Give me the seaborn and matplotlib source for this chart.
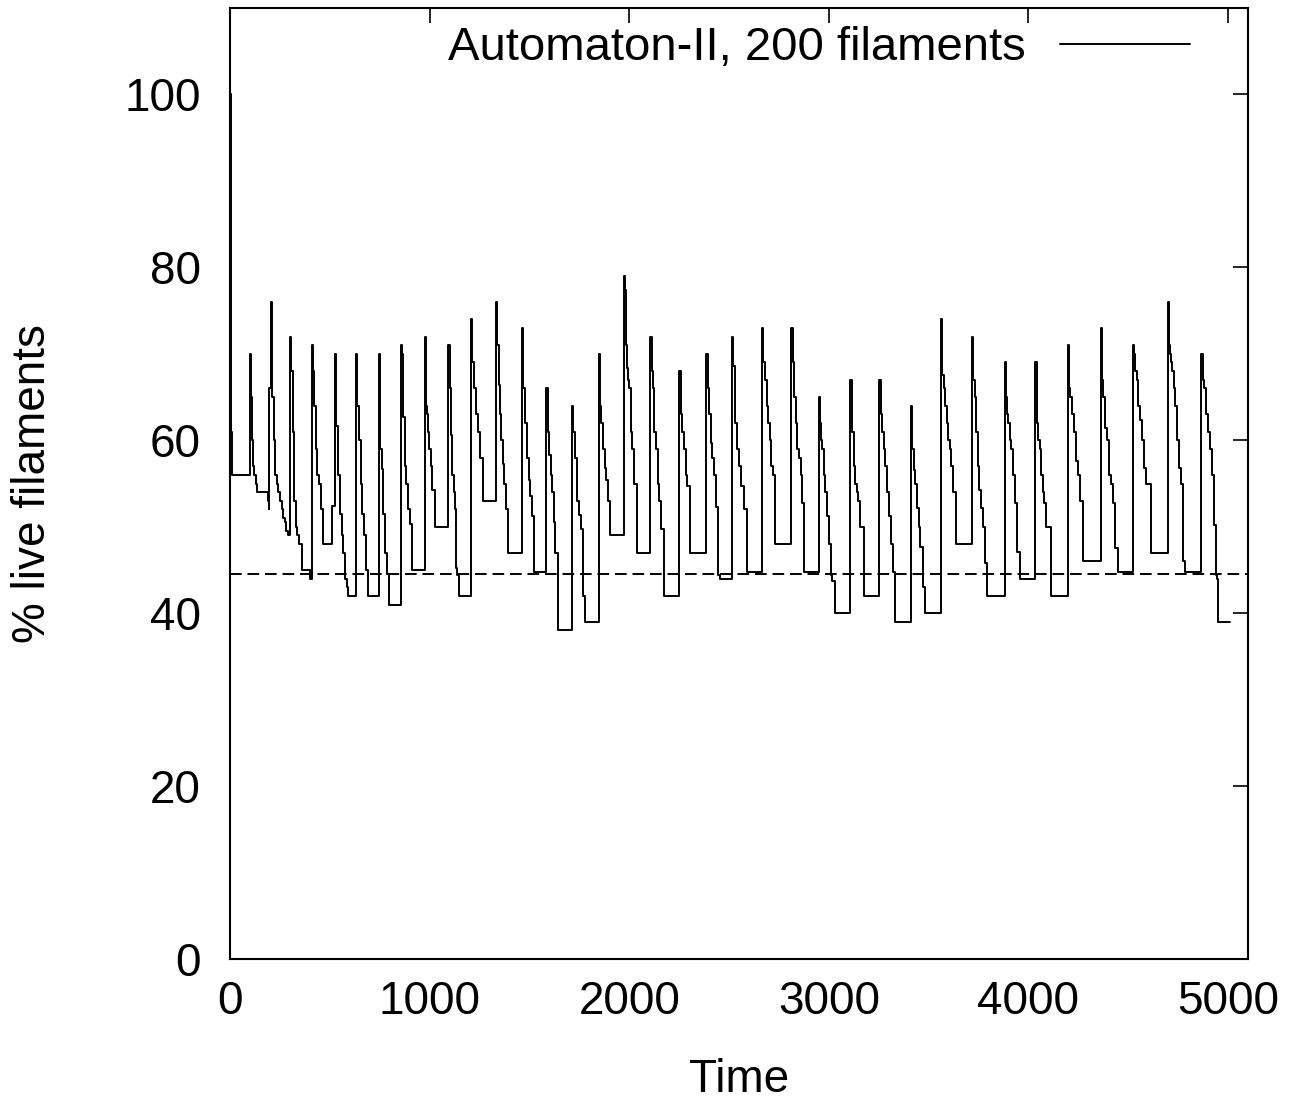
import matplotlib
matplotlib.use("Agg")
import matplotlib.pyplot as plt
import seaborn as sns
import pandas as pd

# step trace: time of each change and the % of live filaments from then on
# (one line per sawtooth cycle)
times = [
    0, 4, 12,
    100, 104, 110, 116, 122, 128, 135, 189, 194,
    197, 206, 210, 218, 226, 234, 242, 250, 258, 266, 274, 282, 292,
    301, 306, 313, 320, 328, 335, 343, 362, 401,
    409, 414, 422, 430, 438, 446, 455, 466, 513,
    526, 533, 542, 552, 560, 568, 578, 585, 593,
    630, 637, 645, 654, 662, 670, 680, 690,
    747, 753, 760, 768, 777, 785, 794,
    855, 860, 866, 875, 884, 892, 900, 911,
    975, 980, 986, 992, 998, 1005, 1013, 1028,
    1094, 1100, 1107, 1114, 1120, 1127, 1134, 1139, 1145,
    1208, 1214, 1222, 1232, 1242, 1252, 1265,
    1334, 1338, 1345, 1352, 1359, 1366, 1373, 1381, 1392,
    1462, 1468, 1477, 1487, 1496, 1505, 1513, 1521,
    1584, 1591, 1598, 1606, 1614, 1622, 1630, 1643,
    1713, 1720, 1730, 1740, 1748, 1756, 1766, 1776,
    1846, 1852, 1860, 1868, 1876, 1884, 1893, 1905,
    1975, 1980, 1985, 1990, 1995, 2000, 2008, 2015, 2024, 2039,
    2105, 2112, 2118, 2126, 2134, 2142, 2150, 2160, 2172,
    2251, 2258, 2266, 2274, 2282, 2290, 2306,
    2385, 2392, 2400, 2408, 2416, 2424, 2434, 2446, 2453,
    2517, 2522, 2532, 2542, 2552, 2562, 2574, 2590,
    2665, 2672, 2680, 2688, 2696, 2704, 2712, 2720, 2732,
    2811, 2818, 2826, 2834, 2842, 2850, 2858, 2866, 2877,
    2953, 2958, 2963, 2968, 2975, 2983, 2991, 3000, 3010, 3018, 3029,
    3108, 3115, 3125, 3133, 3140, 3148, 3158, 3175,
    3253, 3260, 3267, 3275, 3283, 3292, 3300, 3310, 3320, 3330,
    3409, 3418, 3426, 3434, 3442, 3450, 3458, 3470, 3481,
    3564, 3568, 3575, 3582, 3590, 3598, 3606, 3614, 3624, 3638,
    3718, 3724, 3730, 3738, 3746, 3754, 3762, 3770, 3780, 3793,
    3881, 3887, 3893, 3899, 3906, 3913, 3921, 3930, 3942, 3957,
    4035, 4042, 4050, 4057, 4065, 4073, 4080, 4090, 4111,
    4197, 4203, 4210, 4218, 4228, 4238, 4248, 4258, 4273,
    4361, 4367, 4374, 4384, 4393, 4403, 4412, 4422, 4435, 4448,
    4525, 4530, 4536, 4542, 4550, 4558, 4568, 4578, 4590, 4612,
    4700, 4705, 4710, 4715, 4720, 4728, 4736, 4746, 4756, 4766, 4776, 4784,
    4866, 4872, 4878, 4888, 4898, 4908, 4918, 4928, 4940, 4946, 4951, 5010,
]
live_pct = [
    100, 61, 56,
    70, 65, 60, 57, 56, 55, 54, 53, 52,
    66, 76, 65, 60, 56, 55, 54, 53, 52, 51, 50.5, 49.5, 49,
    72, 68, 61, 53, 50, 49, 48, 45, 44,
    71, 68, 64, 59, 56, 55, 52, 48, 52.4,
    70, 61.6, 56, 51.5, 49, 47, 44, 43, 42,
    70, 64, 60, 55, 51.5, 49, 45, 42,
    70, 59, 56.7, 51.5, 47, 44.5, 41,
    71, 70, 62.7, 57, 55, 52, 50.3, 45,
    72, 64, 63, 61, 59, 57, 54.3, 50,
    71, 66, 60.6, 56, 54, 52, 45.2, 44.4, 42,
    74, 69, 66, 63, 61, 58, 53,
    76, 71, 66.4, 63, 60, 57.2, 55, 52, 47,
    73, 66, 62, 58, 55.4, 53.5, 51.2, 44.8,
    66, 61, 58.3, 56, 54, 50.6, 47, 38,
    64, 61, 58, 53, 51.4, 49.7, 42, 39,
    70, 64, 62, 59, 56.8, 55.4, 53, 49,
    79, 77.4, 71, 68.4, 67, 66, 61, 59, 55, 47,
    72, 68, 66, 61, 59, 55, 53, 49.7, 42,
    68, 63, 61, 59, 56, 54.7, 47,
    70, 66, 63, 59.7, 58, 56, 52.3, 44.4, 44,
    72, 68.6, 62, 59, 57, 54.7, 52, 44.8,
    73, 69, 67, 64, 62, 60, 57, 56, 48,
    73, 69, 65, 62, 59, 58, 56, 52.7, 44.8,
    65, 62, 60, 59, 56, 54, 51.2, 48, 44.4, 43.7, 40,
    67, 61, 57, 55, 54, 53, 50, 42,
    67, 63, 61, 59, 57, 54, 51.2, 48, 44.8, 39,
    64, 59, 56.6, 55, 52.2, 50, 47.7, 43, 40,
    74, 67.6, 66, 64, 62, 60, 59, 57, 54, 48,
    72, 67, 65, 61, 57, 54.3, 52.2, 50, 45.8, 42,
    69, 65, 63, 62, 60, 59, 56, 52.7, 47.1, 44,
    69, 62, 60, 59, 56, 54, 52.7, 50, 42,
    71, 66, 65, 63, 61, 57.6, 56, 53, 46,
    73, 67, 65, 61.4, 60, 56, 55, 52.7, 47.5, 44.8,
    71, 70, 68, 67, 64, 62.4, 60, 56.8, 55, 47,
    76, 71, 70, 69, 68, 66, 64, 60, 56.8, 55, 46, 44.8,
    70, 67, 66, 63, 61, 59, 56, 50.2, 44.4, 44, 39, 39,
]
mean_level = 44.5
series_label = "Automaton-II, 200 filaments"
x_ticks = [0, 1000, 2000, 3000, 4000, 5000]
y_ticks = [0, 20, 40, 60, 80, 100]

assert len(times) == len(live_pct)

sns.set_theme(style="white")
plt.rcParams["font.family"] = ["Liberation Sans", "DejaVu Sans"]
plt.rcParams["text.color"] = "black"
plt.rcParams["axes.labelcolor"] = "black"

FS = 33

df = pd.DataFrame({"Time": times, "Live": live_pct})

fig = plt.figure(figsize=(12.96, 11), dpi=100)
ax = fig.add_axes([0.1775, 0.1282, 0.7855, 0.8645])

sns.lineplot(data=df, x="Time", y="Live", drawstyle="steps-post", color="black",
             linewidth=1.4, estimator=None, sort=False, label=series_label, ax=ax)
ax.axhline(mean_level, color="black", linewidth=1.4, linestyle=(0, (6, 3)))

ax.set_xlim(0, 5100)
ax.set_ylim(0, 110)
ax.set_xticks(x_ticks)
ax.set_yticks(y_ticks)
ax.tick_params(direction="in", length=11, width=1.2, top=True, right=True,
               labelsize=FS, colors="black")
ax.tick_params(axis="x", pad=15)
ax.tick_params(axis="y", pad=21)
for sp in ax.spines.values():
    sp.set_color("black")
    sp.set_linewidth(1.5)

ax.set_xlabel("Time", fontsize=FS)
ax.set_ylabel("% live filaments", fontsize=FS)
ax.xaxis.set_label_coords(0.5, -0.104)
ax.yaxis.set_label_coords(-0.172, 0.5)

ax.legend(loc="upper right", bbox_to_anchor=((1190 - 230) / 1018, 0.981),
          frameon=False, markerfirst=False, fontsize=34, handlelength=2.75,
          borderpad=0, borderaxespad=0, handletextpad=0.72)

fig.savefig("out.png", dpi=100)
